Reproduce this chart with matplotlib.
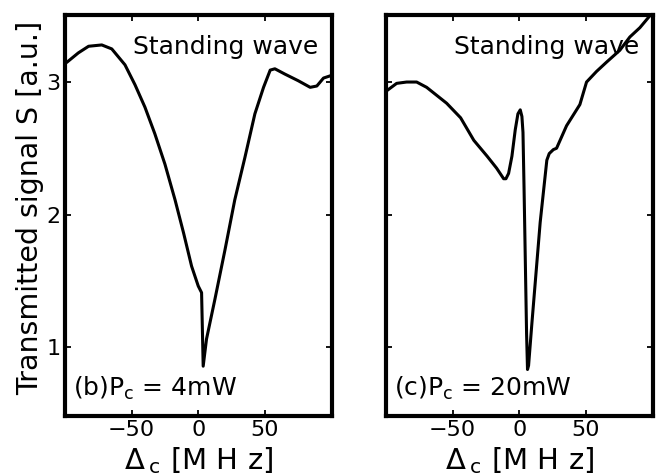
import matplotlib
matplotlib.use("Agg")
import matplotlib.pyplot as plt

plt.rcParams['font.family'] = ['DejaVu Sans']
plt.rcParams['mathtext.default'] = 'regular'

# Panel (b): P_c = 4 mW
x_b = [-100, -98.5, -90, -82.3, -72.4, -64.9, -55, -47.5, -40, -32.6, -25, -17.4, -11,
       -5, 0, 2.5, 3.7, 6.2, 12.5, 20, 27.4, 35, 42.5, 49, 54, 57.5, 65, 75, 84, 89, 94, 100]
s_b = [3.14, 3.15, 3.22, 3.27, 3.28, 3.25, 3.13, 2.98, 2.81, 2.61, 2.38, 2.11, 1.86,
       1.61, 1.46, 1.41, 0.855, 1.06, 1.36, 1.73, 2.11, 2.43, 2.76, 2.96, 3.09, 3.10,
       3.06, 3.01, 2.96, 2.97, 3.03, 3.05]

# Panel (c): P_c = 20 mW
x_c = [-100, -92, -84.5, -77, -69.5, -62, -54.5, -44, -34.1, -24.1, -17, -11.7, -10, -8,
       -5.5, -3, -1, 0.75, 2, 2.8, 3.6, 4.5, 5.5, 6.2, 7, 9.5, 15.7, 20.7, 22.5, 25.6, 28,
       35.5, 45.5, 50.5, 58, 65.5, 75.5, 83, 90.5, 98, 100]
s_c = [2.93, 2.99, 3.00, 3.00, 2.96, 2.90, 2.84, 2.73, 2.56, 2.44, 2.35, 2.27, 2.27, 2.31,
       2.44, 2.64, 2.76, 2.79, 2.74, 2.62, 2.20, 1.68, 1.10, 0.83, 0.86, 1.18, 1.94, 2.41,
       2.46, 2.49, 2.50, 2.67, 2.83, 3.00, 3.08, 3.15, 3.24, 3.34, 3.41, 3.50, 3.52]

xticks = [-50, 0, 50]
yticks = [1, 2, 3]

fig = plt.figure(figsize=(6.62, 4.76), dpi=100)
W, H = 662, 476
ax1 = fig.add_axes([65 / W, (H - 416) / H, 266.5 / W, 401 / H])
ax2 = fig.add_axes([386 / W, (H - 416) / H, 266.5 / W, 401 / H])

panels = [(ax1, x_b, s_b, r'(b)P$_c$ = 4mW'), (ax2, x_c, s_c, r'(c)P$_c$ = 20mW')]
for ax, xs, ys, lab in panels:
    ax.plot(xs, ys, color='black', lw=2.2, zorder=4)
    ax.set_xlim(-100, 100)
    ax.set_ylim(0.479, 3.506)
    ax.set_xticks(xticks)
    ax.set_yticks(yticks)
    for sp in ax.spines.values():
        sp.set_linewidth(3)
    ax.tick_params(direction='in', top=True, right=True, length=4, width=1.3,
                   labelsize=16, pad=3)
    ax.text(0.95, 0.92, 'Standing wave', transform=ax.transAxes, ha='right',
            va='center', fontsize=18, zorder=3)
    ax.text(0.03, 0.07, lab, transform=ax.transAxes, ha='left', va='center',
            fontsize=18)
    ax.text(0.5, -0.11, r'$\Delta\,{}_c$ [M H z]', transform=ax.transAxes,
            ha='center', va='center', fontsize=21)

ax2.tick_params(labelleft=False)
fig.text(30 / W, (H - 208) / H, 'Transmitted signal S [a.u.]', rotation=90,
         ha='center', va='center', fontsize=20.5)

fig.savefig('out.png', dpi=100)
